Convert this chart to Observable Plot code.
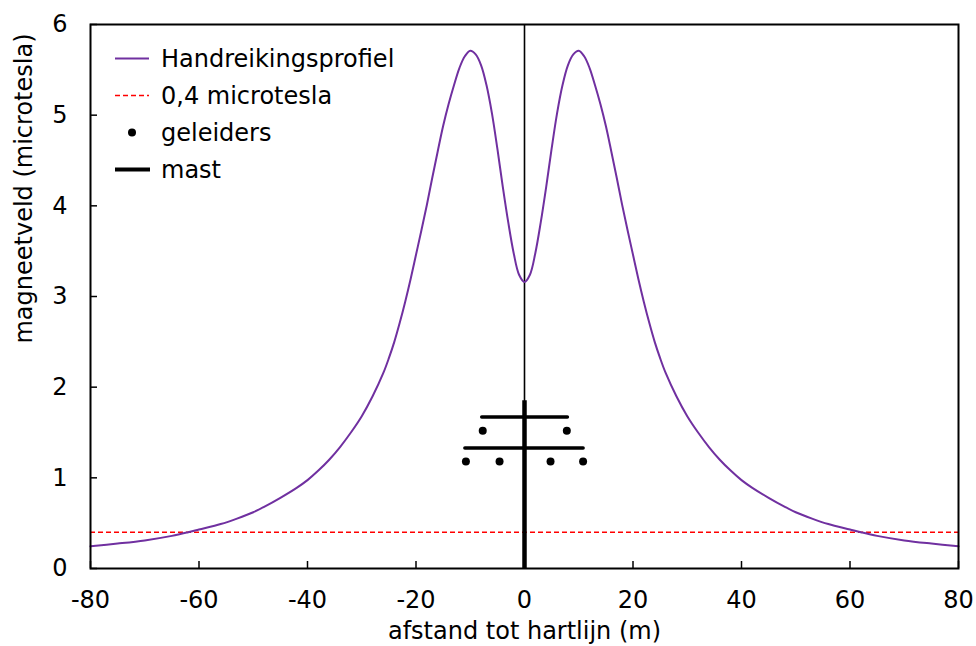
<!DOCTYPE html>
<html>
<head>
<meta charset="utf-8">
<script src="https://cdn.jsdelivr.net/npm/d3@7"></script>
<script src="https://cdn.jsdelivr.net/npm/@observablehq/plot@0.6"></script>
<style>
  body { margin: 0; background: #fff; }
  #wrap { position: relative; width: 976px; height: 646px; font-family: "DejaVu Sans", Verdana, sans-serif; }
  #legend { position: absolute; left: 113px; top: 40px; font-size: 24px; color: #000; }
  .row { display: flex; align-items: center; height: 37px; }
  .row svg { width: 38px; height: 37px; }
  .row span { margin-left: 10px; }
</style>
</head>
<body>
<div id="wrap"></div>
<script>
// Magnetic field profile (microtesla) vs distance to centre line (m)
const distance = [-80,-75,-70,-65,-62,-60,-56,-53,-50,-48,-45,-42,-40,-38,-36,-34,-32,-30,-28,-26,-25,-24,-23,-22,-21,-20,-19,-18,-17,-16,-15,-14,-13,-12,-11,-10,-9,-8,-7,-6,-5,-4,-3,-2,-1,0,
  1,2,3,4,5,6,7,8,9,10,11,12,13,14,15,16,17,18,19,20,21,22,23,24,25,26,28,30,32,34,36,38,40,42,45,48,50,53,56,60,62,65,70,75,80];
const field = [0.245,0.275,0.31,0.36,0.40,0.43,0.49,0.55,0.62,0.68,0.78,0.89,0.975,1.08,1.20,1.34,1.50,1.68,1.90,2.16,2.32,2.50,2.71,2.94,3.19,3.46,3.73,4.01,4.31,4.60,4.88,5.12,5.33,5.52,5.65,5.71,5.67,5.55,5.33,5.02,4.63,4.21,3.82,3.48,3.24,3.16,
  3.24,3.48,3.82,4.21,4.63,5.02,5.33,5.55,5.67,5.71,5.65,5.52,5.33,5.12,4.88,4.60,4.31,4.01,3.73,3.46,3.19,2.94,2.71,2.50,2.32,2.16,1.90,1.68,1.50,1.34,1.20,1.08,0.975,0.89,0.78,0.68,0.62,0.55,0.49,0.43,0.40,0.36,0.31,0.275,0.245];

const threshold = [0.4];

// Conductors (geleiders)
const condX = [-10.8,-4.6,4.8,10.8,-7.7,7.8];
const condY = [1.18,1.18,1.18,1.18,1.52,1.52];

// Mast
const mastX = [0];
const mastTop = [1.85];
const armX1 = [-7.8,-10.9];
const armX2 = [8.0,10.9];
const armY = [1.67,1.33];

const xTicks = [-80,-60,-40,-20,0,20,40,60,80];
const yTicks = [0,1,2,3,4,5,6];

const profile = distance.map((d, i) => ({x: d, y: field[i]}));
const conductors = condX.map((d, i) => ({x: d, y: condY[i]}));
const arms = armY.map((y, i) => ({x1: armX1[i], x2: armX2[i], y}));
const mast = mastX.map((x, i) => ({x, y1: 0, y2: mastTop[i]}));

const font = "DejaVu Sans, Verdana, sans-serif";

const chart = Plot.plot({
  width: 976,
  height: 646,
  marginLeft: 90,
  marginRight: 18,
  marginTop: 24,
  marginBottom: 78,
  style: {fontFamily: font, fontSize: "24px", color: "#000", background: "#fff"},
  x: {domain: [-80, 80]},
  y: {domain: [0, 6]},
  marks: [
    // inward tick marks
    Plot.axisX({ticks: xTicks, tickSize: -7, text: null, strokeWidth: 1.5}),
    Plot.axisY({ticks: yTicks, tickSize: -7, text: null, strokeWidth: 1.5}),
    // tick labels
    Plot.axisX({ticks: xTicks, tickSize: 0, tickPadding: 22, label: null, tickFormat: d => String(d), fontSize: 24}),
    Plot.axisY({ticks: yTicks, tickSize: 0, tickPadding: 23, label: null, tickFormat: d => String(d), fontSize: 24}),
    // titles
    Plot.text(["afstand tot hartlijn (m)"], {frameAnchor: "bottom", dy: 63, lineAnchor: "middle", fontSize: 24}),
    Plot.text(["magneetveld (microtesla)"], {frameAnchor: "left", dx: -66, dy: -108, rotate: -90, lineAnchor: "middle", textAnchor: "middle", fontSize: 24}),
    // centre line
    Plot.ruleX([0], {stroke: "black", strokeWidth: 1.6}),
    // threshold
    Plot.ruleY(threshold, {stroke: "#ff0000", strokeWidth: 1.6, strokeDasharray: "5,3"}),
    // mast
    Plot.ruleX(mast, {x: "x", y1: "y1", y2: "y2", stroke: "black", strokeWidth: 4.5}),
    Plot.ruleY(arms, {x1: "x1", x2: "x2", y: "y", stroke: "black", strokeWidth: 3.5, strokeLinecap: "round"}),
    Plot.dot(conductors, {x: "x", y: "y", r: 4, fill: "black"}),
    // profile
    Plot.line(profile, {x: "x", y: "y", stroke: "#7030A0", strokeWidth: 2, curve: "catmull-rom"}),
    Plot.frame({stroke: "black", strokeWidth: 2})
  ]
});

const wrap = document.getElementById("wrap");
wrap.appendChild(chart);

const legend = document.createElement("div");
legend.id = "legend";
legend.innerHTML = `
  <div class="row"><svg><line x1="2" x2="36" y1="18.5" y2="18.5" stroke="#7030A0" stroke-width="2"/></svg><span>Handreikingsprofiel</span></div>
  <div class="row"><svg><line x1="2" x2="36" y1="18.5" y2="18.5" stroke="#ff0000" stroke-width="1.6" stroke-dasharray="5,3"/></svg><span>0,4 microtesla</span></div>
  <div class="row"><svg><circle cx="19" cy="18.5" r="4" fill="black"/></svg><span>geleiders</span></div>
  <div class="row"><svg><line x1="2" x2="37" y1="18.5" y2="18.5" stroke="black" stroke-width="4"/></svg><span>mast</span></div>`;
wrap.appendChild(legend);
</script>
</body>
</html>
